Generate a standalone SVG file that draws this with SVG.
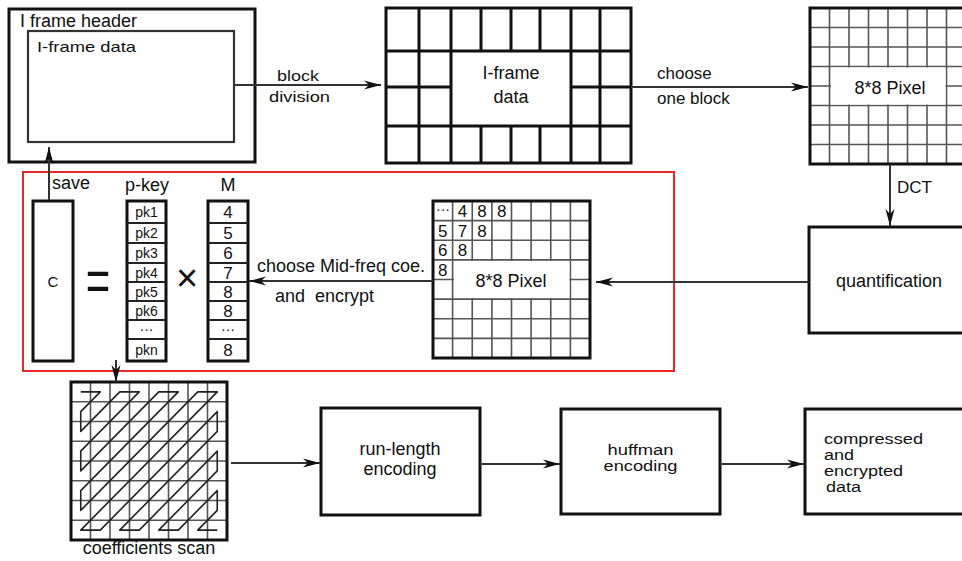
<svg xmlns="http://www.w3.org/2000/svg" width="962" height="561" viewBox="0 0 962 561">
<style>
text{font-family:"Liberation Sans",Arial,sans-serif;fill:#111}
.l18{font-size:18px}
.l17{font-size:17px}
.l15{font-size:15px}
.l14{font-size:14px}
.c{text-anchor:middle}
.box{fill:#fff;stroke:#111;stroke-width:3}
.thin{stroke:#555;stroke-width:1.6;fill:none}
.thick{stroke:#111;stroke-width:3;fill:none}
.cell{stroke:#222;stroke-width:1.8;fill:none}
.conn{stroke:#333;stroke-width:2;fill:none;marker-end:url(#ah)}
</style>
<defs>
<marker id="ah" markerUnits="userSpaceOnUse" markerWidth="18" markerHeight="10" refX="17" refY="5" orient="auto">
<path d="M0,0.5 L17,5 L0,9.5 L5,5 z" fill="#111"/>
</marker>
</defs>
<rect width="962" height="561" fill="#fff"/>

<g id="iframe">
<rect class="box" x="9" y="9" width="246" height="153"/>
<rect x="28" y="31" width="206" height="111" fill="none" stroke="#333" stroke-width="2.2"/>
<text class="l18" x="20" y="27">I frame header</text>
<text class="l15" x="37" y="52" textLength="99" lengthAdjust="spacingAndGlyphs">I-frame data</text>
</g>

<g id="blocks">
<rect class="box" x="386" y="8" width="245" height="155"/>
<path class="thick" d="M386,51 H631 M386,126 H631 M386,87 H451 M571,87 H631 M419,8 V163 M451,8 V163 M571,8 V163 M600,8 V163 M481,8 V51 M511,8 V51 M540,8 V51 M481,126 V163 M511,126 V163 M540,126 V163"/>
<text class="l18 c" x="511" y="79">I-frame</text>
<text class="l18 c" x="511" y="103">data</text>
</g>

<g id="pixel-top">
<rect x="810" y="8" width="156" height="156" fill="#fff"/>
<path class="thin" d="M829.5,8 V164 M849,8 V164 M868.5,8 V164 M888,8 V164 M907.5,8 V164 M927,8 V164 M946.5,8 V164 M810,27.5 H966 M810,47 H966 M810,66.5 H966 M810,86 H966 M810,105.5 H966 M810,125 H966 M810,144.5 H966"/>
<rect x="831" y="67.5" width="114.5" height="37" fill="#fff"/>
<rect x="810" y="8" width="156" height="156" fill="none" stroke="#111" stroke-width="3"/>
<text class="l18 c" x="890" y="94">8*8 Pixel</text>
</g>

<g id="quant">
<rect class="box" x="809" y="227" width="160" height="106"/>
<text class="l18 c" x="889" y="287">quantification</text>
</g>

<g id="pixel-mid">
<rect x="433" y="201" width="157" height="157" fill="#fff"/>
<path class="thin" d="M452.6,201 V358 M472.25,201 V358 M491.9,201 V358 M511.5,201 V358 M531.1,201 V358 M550.75,201 V358 M570.4,201 V358 M433,220.6 H590 M433,240.25 H590 M433,259.9 H590 M433,279.5 H590 M433,299.1 H590 M433,318.75 H590 M433,338.4 H590"/>
<rect x="454" y="261" width="115.4" height="37" fill="#fff"/>
<rect x="433" y="201" width="157" height="157" fill="none" stroke="#111" stroke-width="3"/>
<text class="l14 c" x="443" y="214">···</text>
<text class="l17 c" x="462.4" y="217">4</text>
<text class="l17 c" x="482" y="217">8</text>
<text class="l17 c" x="501.7" y="217">8</text>
<text class="l17 c" x="442.8" y="236.5">5</text>
<text class="l17 c" x="462.4" y="236.5">7</text>
<text class="l17 c" x="482" y="236.5">8</text>
<text class="l17 c" x="442.8" y="256">6</text>
<text class="l17 c" x="462.4" y="256">8</text>
<text class="l17 c" x="442.8" y="276">8</text>
<text class="l18 c" x="511" y="287">8*8 Pixel</text>
</g>

<g id="encrypt-region">
<rect x="23" y="172" width="651" height="199" fill="none" stroke="#e8262b" stroke-width="2"/>
</g>

<g id="c-box">
<rect class="box" x="33" y="201" width="40" height="160"/>
<text class="l15 c" x="53" y="287">C</text>
</g>

<g id="equals">
<text class="c" font-size="40" transform="translate(98,280) scale(1.05,1.5)" y="14">=</text>
</g>

<g id="pkey">
<text class="l18 c" x="147" y="191">p-key</text>
<rect class="box" x="127" y="201" width="39" height="160"/>
<path class="cell" d="M127,223 H166 M127,243 H166 M127,263 H166 M127,282 H166 M127,301 H166 M127,320 H166 M127,339 H166"/>
<text class="l14 c" x="146.5" y="217">pk1</text>
<text class="l14 c" x="146.5" y="238">pk2</text>
<text class="l14 c" x="146.5" y="258">pk3</text>
<text class="l14 c" x="146.5" y="277.5">pk4</text>
<text class="l14 c" x="146.5" y="296.5">pk5</text>
<text class="l14 c" x="146.5" y="315.5">pk6</text>
<text class="l14 c" x="146.5" y="334">···</text>
<text class="l14 c" x="146.5" y="355">pkn</text>
</g>

<g id="times">
<text class="c" font-size="38" x="187" y="291" fill="#222">×</text>
</g>

<g id="m-col">
<text class="l18 c" x="228" y="191">M</text>
<rect class="box" x="208" y="201" width="40" height="160"/>
<path class="cell" d="M208,223 H248 M208,243 H248 M208,263 H248 M208,282 H248 M208,301 H248 M208,320 H248 M208,339 H248"/>
<text class="l17 c" x="228" y="218">4</text>
<text class="l17 c" x="228" y="239">5</text>
<text class="l17 c" x="228" y="259">6</text>
<text class="l17 c" x="228" y="278.5">7</text>
<text class="l17 c" x="228" y="297.5">8</text>
<text class="l17 c" x="228" y="316.5">8</text>
<text class="l14 c" x="228" y="334">···</text>
<text class="l17 c" x="228" y="356">8</text>
</g>

<g id="scan">
<rect x="71" y="382" width="156" height="158" fill="#fff"/>
<path class="thin" d="M90.5,382 V540 M110,382 V540 M129.5,382 V540 M149,382 V540 M168.5,382 V540 M188,382 V540 M207.5,382 V540 M71,401.75 H227 M71,421.5 H227 M71,441.25 H227 M71,461 H227 M71,480.75 H227 M71,500.5 H227 M71,520.25 H227"/>
<polyline fill="none" stroke="#222" stroke-width="1.6" stroke-linejoin="round" points="80.75,391.9 100.25,391.9 80.75,411.6 80.75,431.4 119.75,391.9 139.25,391.9 80.75,451.1 80.75,470.9 158.75,391.9 178.25,391.9 80.75,490.6 80.75,510.4 197.75,391.9 217.25,391.9 80.75,530.1 100.25,530.1 217.25,411.6 217.25,431.4 119.75,530.1 139.25,530.1 217.25,451.1 217.25,470.9 158.75,530.1 178.25,530.1 217.25,490.6 217.25,510.4 197.75,530.1 217.25,530.1"/>
<rect x="71" y="382" width="156" height="158" fill="none" stroke="#111" stroke-width="3"/>
<text class="l18 c" x="149" y="554">coefficients scan</text>
</g>

<g id="runlength">
<rect class="box" x="321" y="408" width="159" height="107"/>
<text class="l18 c" x="400" y="455">run-length</text>
<text class="l18 c" x="400" y="475">encoding</text>
</g>

<g id="huffman">
<rect class="box" x="561" y="409" width="159" height="105"/>
<text class="l14 c" x="640.5" y="455" textLength="66" lengthAdjust="spacingAndGlyphs">huffman</text>
<text class="l14 c" x="640.5" y="471" textLength="74" lengthAdjust="spacingAndGlyphs">encoding</text>
</g>

<g id="output">
<rect class="box" x="805" y="409" width="162" height="105"/>
<text class="l14" x="824" y="444" textLength="99" lengthAdjust="spacingAndGlyphs">compressed</text>
<text class="l14" x="824" y="460" textLength="30" lengthAdjust="spacingAndGlyphs">and</text>
<text class="l14" x="824" y="476" textLength="79" lengthAdjust="spacingAndGlyphs">encrypted</text>
<text class="l14" x="826" y="492" textLength="35" lengthAdjust="spacingAndGlyphs">data</text>
</g>

<g id="connectors">
<line class="conn" x1="234" y1="85" x2="381" y2="85"/>
<text class="l15 c" x="298" y="81" textLength="42" lengthAdjust="spacingAndGlyphs">block</text>
<text class="l15 c" x="299.5" y="102" textLength="61" lengthAdjust="spacingAndGlyphs">division</text>
<line class="conn" x1="631" y1="87" x2="808" y2="87"/>
<text class="l17" x="657" y="79">choose</text>
<text class="l17" x="657" y="104">one block</text>
<line class="conn" x1="890" y1="164" x2="890" y2="226"/>
<text class="l17" x="897" y="193">DCT</text>
<line class="conn" x1="809" y1="282" x2="596" y2="282"/>
<line class="conn" x1="433" y1="281" x2="249" y2="281"/>
<text class="l18" x="257" y="272">choose Mid-freq coe.</text>
<text class="l18" x="275" y="302" xml:space="preserve">and  encrypt</text>
<line class="conn" x1="49" y1="200" x2="49" y2="147"/>
<text class="l18" x="52" y="189">save</text>
<line class="conn" x1="116" y1="360" x2="116" y2="382"/>
<line class="conn" x1="231" y1="463" x2="320" y2="463"/>
<line class="conn" x1="480" y1="464" x2="560" y2="464"/>
<line class="conn" x1="720" y1="464" x2="804" y2="464"/>
</g>
</svg>
